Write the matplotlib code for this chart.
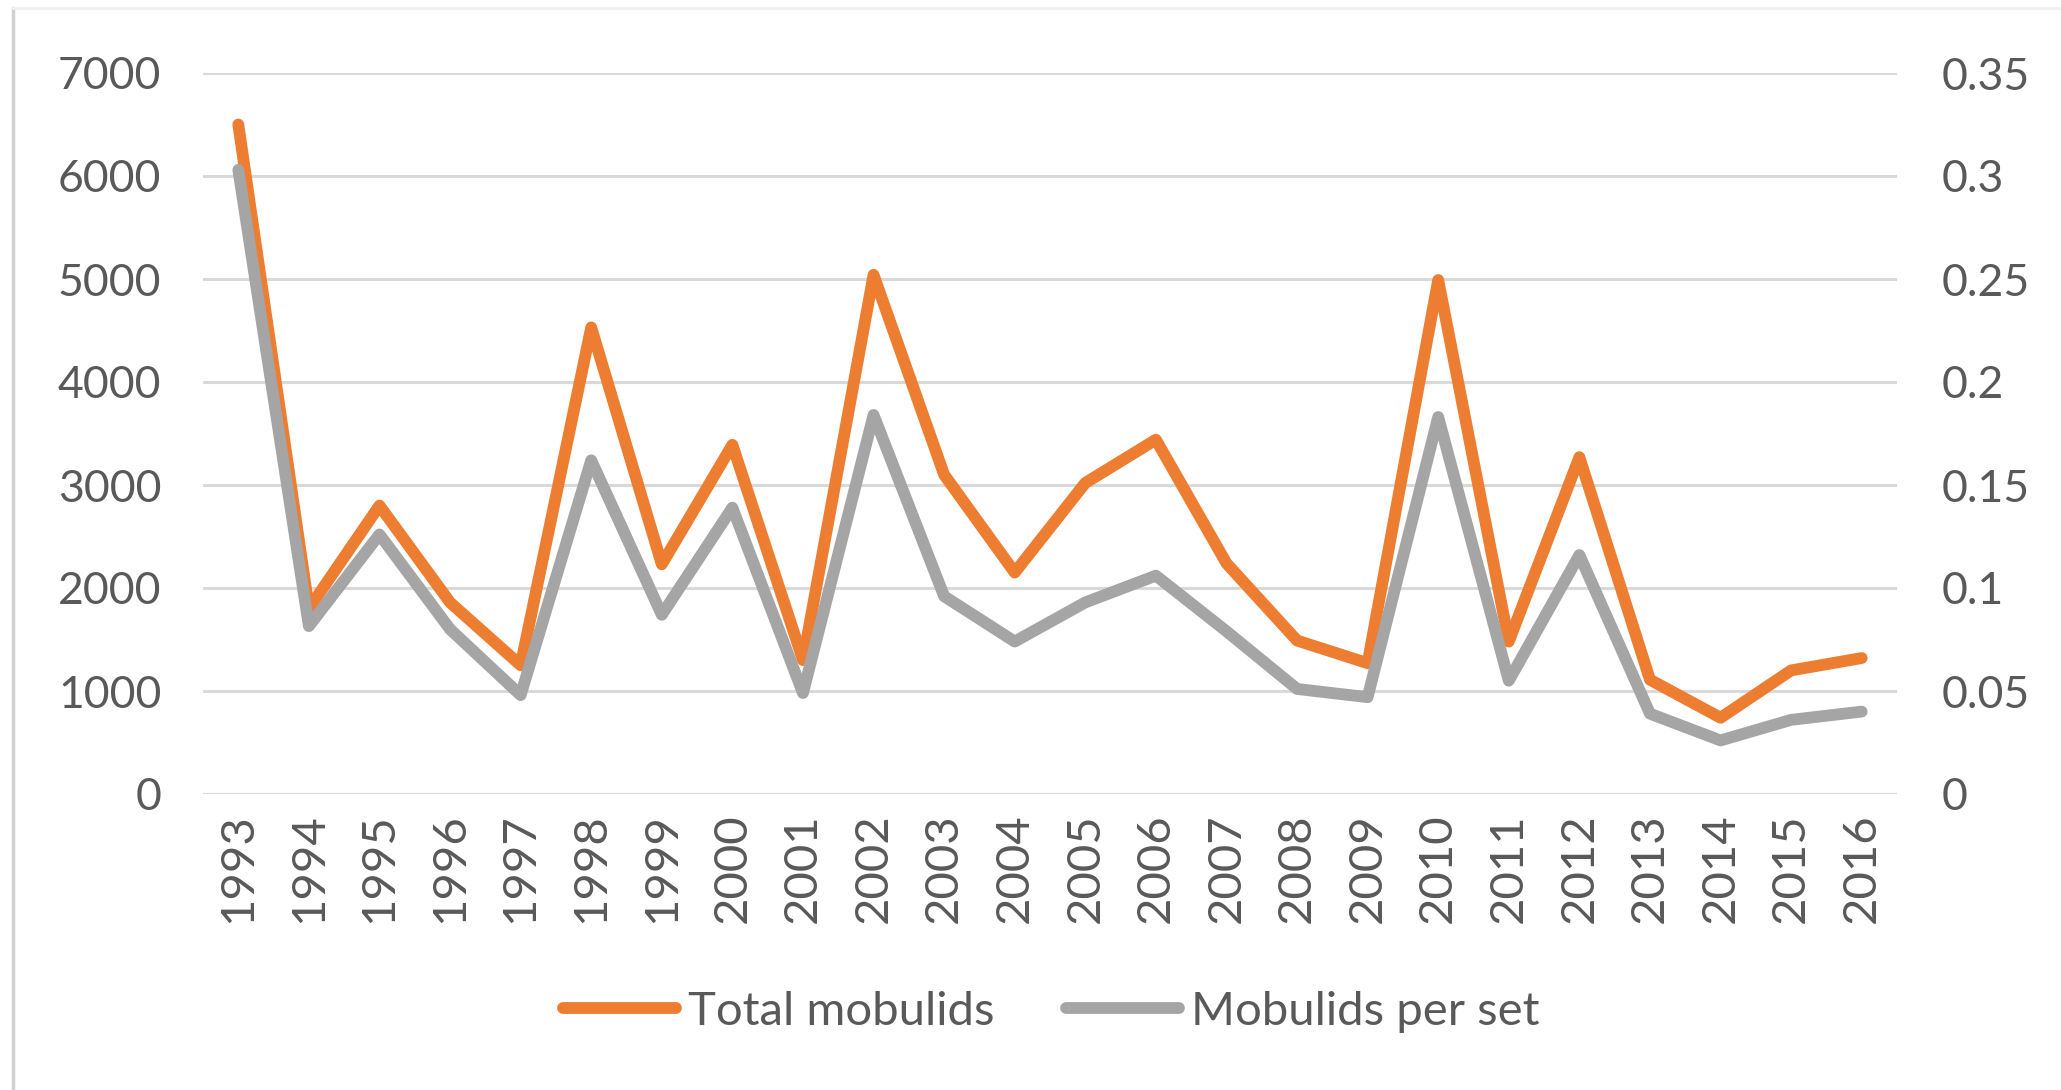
import matplotlib
matplotlib.use("Agg")
import matplotlib.pyplot as plt
from matplotlib.lines import Line2D

years = ["1993", "1994", "1995", "1996", "1997", "1998", "1999", "2000",
         "2001", "2002", "2003", "2004", "2005", "2006", "2007", "2008",
         "2009", "2010", "2011", "2012", "2013", "2014", "2015", "2016"]
total_mobulids = [6500, 1800, 2800, 1860, 1250, 4530, 2230, 3390,
                  1300, 5040, 3100, 2150, 3020, 3440, 2240, 1490,
                  1270, 4990, 1480, 3270, 1110, 740, 1200, 1320]
mobulids_per_set = [0.303, 0.0815, 0.126, 0.080, 0.048, 0.162, 0.087, 0.139,
                    0.049, 0.184, 0.096, 0.074, 0.093, 0.106, 0.079, 0.051,
                    0.047, 0.183, 0.055, 0.116, 0.039, 0.026, 0.036, 0.040]
left_ticks = [0, 1000, 2000, 3000, 4000, 5000, 6000, 7000]
left_labels = ["0", "1000", "2000", "3000", "4000", "5000", "6000", "7000"]
right_ticks = [0, 0.05, 0.1, 0.15, 0.2, 0.25, 0.3, 0.35]
right_labels = ["0", "0.05", "0.1", "0.15", "0.2", "0.25", "0.3", "0.35"]
series_names = ["Total mobulids", "Mobulids per set"]

ORANGE = "#ED7D31"
GRAY = "#A5A5A5"
TXT = "#595959"
GRID = "#D9D9D9"
LW = 8.5

plt.rcParams['font.family'] = ['Lato', 'DejaVu Sans']

W, H = 2061, 1090
fig = plt.figure(figsize=(W / 100, H / 100), dpi=100)
ax = fig.add_axes([203 / W, 1 - 794 / H, (1897 - 203) / W, (794 - 73) / H])
ax2 = ax.twinx()

x = list(range(len(years)))
ax.plot(x, total_mobulids, color=ORANGE, lw=LW, solid_capstyle='round',
        solid_joinstyle='round', zorder=3)
ax2.plot(x, mobulids_per_set, color=GRAY, lw=LW, solid_capstyle='round',
         solid_joinstyle='round', zorder=3)

ax.set_xlim(-0.5, len(years) - 0.5)
ax.set_ylim(0, 7000)
ax2.set_ylim(0, 0.35)

ax.set_yticks(left_ticks)
ax.set_yticklabels(left_labels)
ax2.set_yticks(right_ticks)
ax2.set_yticklabels(right_labels)
ax.set_xticks(x)
ax.set_xticklabels(years, rotation=90)

ax.grid(axis='y', color=GRID, lw=2.2, zorder=0)
ax.set_axisbelow(True)
for a in (ax, ax2):
    for s in a.spines.values():
        s.set_visible(False)
ax.tick_params(axis='y', length=0, pad=30, labelsize=32, labelcolor=TXT)
ax.tick_params(axis='x', length=0, pad=14, labelsize=34, labelcolor=TXT)
ax2.tick_params(axis='y', length=0, pad=32, labelsize=32, labelcolor=TXT)

handles = [Line2D([0], [0], color=ORANGE, lw=LW, solid_capstyle='round'),
           Line2D([0], [0], color=GRAY, lw=LW, solid_capstyle='round')]
leg = fig.legend(handles, series_names, loc='center', bbox_to_anchor=(0.51, 1 - 1012 / H),
                 ncol=2, frameon=False, fontsize=34, handlelength=2.4,
                 handletextpad=0.25, columnspacing=1.5)
for t in leg.get_texts():
    t.set_color(TXT)

# light frame remnants on left and top
fig.add_artist(Line2D([13 / W, 13 / W], [0, 1 - 8 / H], color="#D0D0D0", lw=2.5))
fig.add_artist(Line2D([13 / W, 1], [1 - 8 / H, 1 - 8 / H], color="#F0F0F0", lw=2))

fig.savefig("out.png", dpi=100)
